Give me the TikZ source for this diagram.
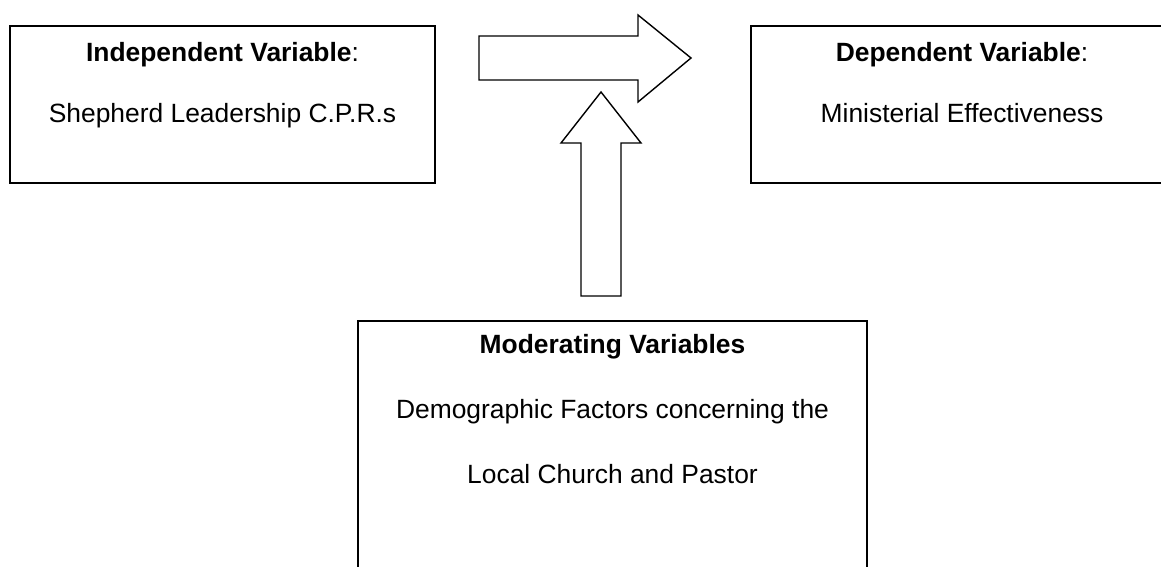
\documentclass[tikz,border=0pt]{standalone}
\usepackage{fontspec}
\setmainfont{Liberation Sans}
\begin{document}
\begin{tikzpicture}[x=1pt,y=-1pt,
  box/.style={draw=black,line width=1.4pt},
  blockarrow/.style={draw=black,line width=1.4pt,fill=white,line join=miter},
  txt/.style={inner sep=0pt,anchor=base,font=\fontsize{26.4}{30}\selectfont}]
\useasboundingbox (0,0) rectangle (1161,567);
\clip (0,0) rectangle (1161,567);
% boxes
\draw[box] (10,26) rectangle (435,183);
\draw[box] (751,26) rectangle (1180,183);
\draw[box] (358,321) rectangle (867,590);
% texts
\node[txt] (iv) at (222.5,62) {\textbf{Independent Variable}:};
\node[txt] (ivt) at (222.5,123) {Shepherd Leadership C.P.R.s};
\node[txt] (dv) at (962,62) {\textbf{Dependent Variable}:};
\node[txt] (dvt) at (962,123) {Ministerial Effectiveness};
\node[txt] (mv) at (612.5,353) {\textbf{Moderating Variables}};
\node[txt] (mv1) at (612.5,418) {Demographic Factors concerning the};
\node[txt] (mv2) at (612.5,483) {Local Church and Pastor};
% right block arrow
\draw[blockarrow] (479,36) -- (638,36) -- (638,15) -- (691,58) -- (638,102) -- (638,80) -- (479,80) -- cycle;
% up block arrow
\draw[blockarrow] (581,296) -- (581,143) -- (561,143) -- (601,92) -- (641,143) -- (621,143) -- (621,296) -- cycle;
\end{tikzpicture}
\end{document}
